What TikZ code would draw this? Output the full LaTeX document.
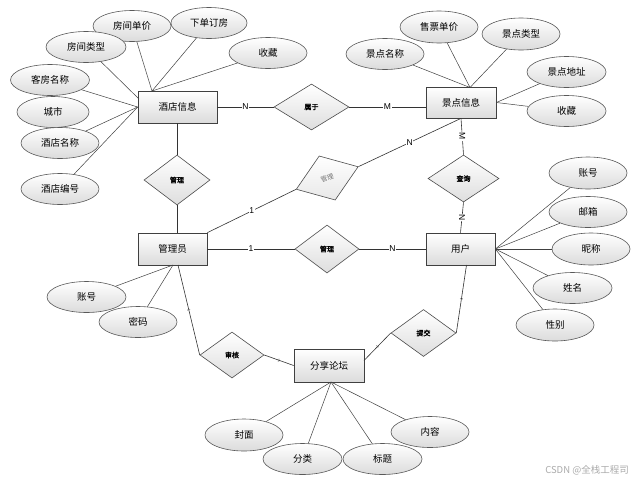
\documentclass[tikz,border=0pt]{standalone}
\usepackage{fontspec}
\setmainfont{Liberation Sans}
\newfontfamily\cjk{Noto Sans CJK SC}
\newfontfamily\cjkb{Noto Sans CJK SC}[FakeBold=2]
\usetikzlibrary{shapes.geometric,shadows,calc}
\tikzset{
  entity/.style={rectangle, draw=black!75, line width=0.7pt, top color=white, bottom color=black!14,
    minimum width=70pt, minimum height=32pt, inner sep=0pt, font=\cjk\fontsize{9.5}{10}\selectfont,
    drop shadow={opacity=0.25, shadow xshift=1.2pt, shadow yshift=-1.2pt}},
  attr/.style={ellipse, draw=black!65, line width=0.6pt, top color=white, bottom color=black!14,
    minimum width=78pt, minimum height=31pt, inner sep=0pt, font=\cjk\fontsize{9.5}{10}\selectfont},
  rel/.style={diamond, draw=black!70, line width=0.6pt, top color=white, bottom color=black!13,
    inner sep=0pt, font=\cjkb\fontsize{7}{7}\selectfont},
  conn/.style={draw=black!80, line width=0.6pt},
  aline/.style={draw=black!75, line width=0.5pt},
  card/.style={fill=white, inner sep=0.6pt, font=\fontsize{8.5}{9}\selectfont},
  tick/.style={inner sep=0.2pt, font=\fontsize{4}{4}\selectfont, text=black!70}
}
\begin{document}
\begin{tikzpicture}[x=1pt,y=-1pt]
\useasboundingbox[fill=white] (0,0) rectangle (644,482);

% entities
\node[entity, minimum width=79pt] (hotel) at (177.5,107) {酒店信息};
\node[entity, minimum height=31pt] (spot) at (461,102.5) {景点信息};
\node[entity, minimum width=69pt] (admin) at (172.5,249) {管理员};
\node[entity, minimum width=69pt] (user) at (460.5,249) {用户};
\node[entity, minimum height=33pt] (forum) at (329,365.5) {分享论坛};

% relations
\node[rel, minimum width=75pt, minimum height=46pt] (belong) at (311.5,107) {属于};
\node[rel, minimum width=66pt, minimum height=50pt] (mgrA) at (177,180) {管理};
\node[rel, minimum width=64pt, minimum height=48pt] (mgrB) at (327,249) {管理};
\node[rel, minimum width=66pt, minimum height=47pt, rotate=20, top color=white, bottom color=black!9,
      font=\cjk\fontsize{6.5}{6.5}\selectfont, text=black!55] (mgrC) at (327.2,178) {管理};
\node[rel, minimum width=71pt, minimum height=47pt] (query) at (463.5,178.5) {查询};
\node[rel, minimum width=65pt, minimum height=47pt] (submit) at (423.5,333) {提交};
\node[rel, minimum width=64pt, minimum height=46pt] (audit) at (232,355) {审核};

% hotel attributes
\node[attr] (hPrice) at (132,26) {房间单价};
\node[attr, minimum width=76pt] (hOrder) at (209,23) {下单订房};
\node[attr, minimum width=80pt] (hType) at (86,47) {房间类型};
\node[attr, minimum width=79pt] (hRoom) at (50,80) {客房名称};
\node[attr, minimum width=72pt] (hCity) at (53,112) {城市};
\node[attr] (hName) at (60,143) {酒店名称};
\node[attr] (hNo) at (60,189) {酒店编号};
\node[attr] (hFav) at (268,53) {收藏};

% spot attributes
\node[attr, minimum height=32pt] (sPrice) at (439,27) {售票单价};
\node[attr, minimum height=32pt] (sType) at (521,34) {景点类型};
\node[attr] (sName) at (385,54) {景点名称};
\node[attr, minimum width=79pt] (sAddr) at (566.5,72) {景点地址};
\node[attr, minimum width=79pt] (sFav) at (566.5,111) {收藏};

% user attributes
\node[attr, minimum height=32pt] (uAcc) at (588,173) {账号};
\node[attr] (uMail) at (588,212) {邮箱};
\node[attr, minimum height=32pt] (uNick) at (591,249) {昵称};
\node[attr, minimum width=79pt] (uName) at (572.5,288) {姓名};
\node[attr, minimum height=32pt] (uSex) at (555,325) {性别};

% admin attributes
\node[attr, minimum width=79pt] (aAcc) at (86.5,297) {账号};
\node[attr] (aPwd) at (138,322) {密码};

% forum attributes
\node[attr, minimum height=32pt] (fCover) at (244,435) {封面};
\node[attr, minimum width=79pt] (fCat) at (302.5,459) {分类};
\node[attr, minimum width=79pt] (fTitle) at (382.5,459) {标题};
\node[attr, minimum width=78pt] (fBody) at (430,432) {内容};

% convergence points
\coordinate (hTop) at (152,91);
\coordinate (hLeftA) at (139,99);
\coordinate (sTop) at (470,87.5);
\coordinate (aBot) at (173,265);
\coordinate (aBotR) at (178,265);
\coordinate (fBot) at (331,382);
\coordinate (fRight) at (364,360.5);
\coordinate (uBot) at (466.5,265);

% attribute lines
\draw[aline] (hTop) -- (hPrice);
\draw[aline] (hTop) -- (hOrder);
\draw[aline] (hTop) -- (hFav);
\draw[aline] (hLeftA) -- (hType);
\draw[aline] (hotel.west) -- (hRoom);
\draw[aline] (hotel.west) -- (hName);
\draw[aline] (hotel.west) -- (hNo);

\draw[aline] (sTop) -- (sName);
\draw[aline] (sTop) -- (sPrice);
\draw[aline] (sTop) -- (sType);
\draw[aline] (spot.east) -- (sAddr);
\draw[aline] (spot.east) -- (sFav);

\draw[aline] (user.east) -- (uAcc);
\draw[aline] (user.east) -- (uMail);
\draw[aline] (user.east) -- (uNick);
\draw[aline] (user.east) -- (uName);
\draw[aline] (user.east) -- (uSex);

\draw[aline] (aBot) -- (aAcc);
\draw[aline] (aBot) -- (aPwd);

\draw[aline] (fBot) -- (fCover);
\draw[aline] (fBot) -- (fCat);
\draw[aline] (fBot) -- (fTitle);
\draw[aline] (fBot) -- (fBody);

% relationship lines
\draw[conn] (hotel.east) -- node[card]{N} (belong.west);
\draw[conn] (belong.east) -- node[card]{M} (belong.east -| spot.west);
\draw[conn] (mgrA.north |- hotel.south) -- (mgrA.north);
\draw[conn] (mgrA.south) -- (mgrA.south |- admin.north);
\draw[conn] (admin.north east) -- node[card]{1} (mgrC.west);
\draw[conn] (mgrC.east) -- node[card]{N} (spot.south);
\draw[conn] (spot.south) -- node[card, rotate=-90]{M} (query.north);
\draw[conn] (query.south) -- node[card, rotate=-90]{N} (user.north);
\draw[conn] (admin.east) -- node[card]{1} (mgrB.west);
\draw[conn] (mgrB.east) -- node[card]{N} (user.west);
\draw[conn] (aBotR) -- node[tick, sloped]{1} (audit.west);
\draw[conn] (audit.east) -- node[tick, sloped]{1} (forum.west);
\draw[conn] (fRight) -- node[tick, sloped]{1} (submit.west);
\draw[conn] (submit.east) -- node[tick, sloped]{1} (uBot);

% watermark
\node[font=\cjk\fontsize{9.5}{10}\selectfont, text=black!33] (wm) at (587,470) {CSDN @全栈工程司};
\end{tikzpicture}
\end{document}
